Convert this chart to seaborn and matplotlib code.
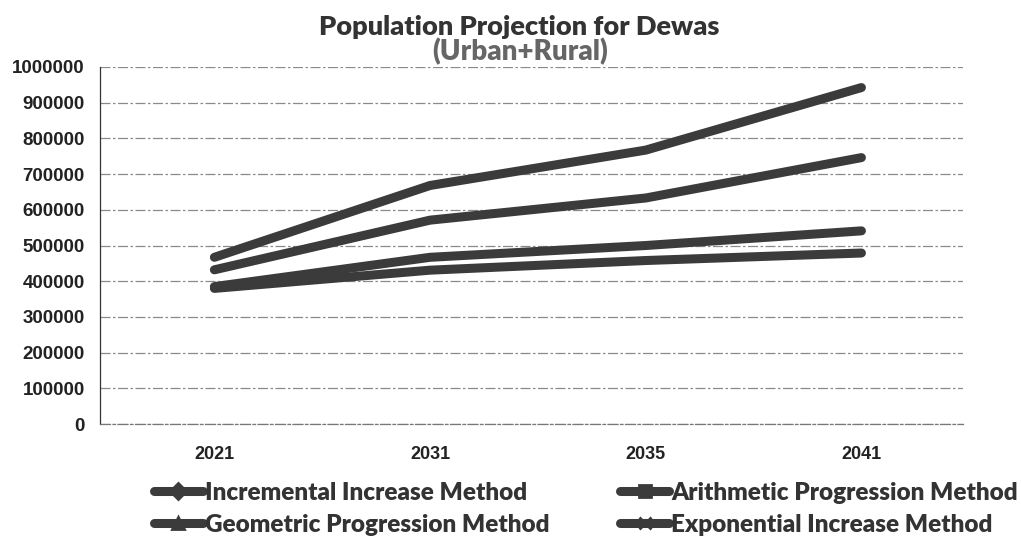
import matplotlib
matplotlib.use("Agg")
import matplotlib.pyplot as plt
from matplotlib.lines import Line2D
from matplotlib.ticker import FixedLocator, FuncFormatter
import seaborn as sns
import pandas as pd

years = ["2021", "2031", "2035", "2041"]
methods = ["Incremental Increase Method", "Arithmetic Progression Method",
           "Geometric Progression Method", "Exponential Increase Method"]
incremental = [432000, 571000, 633000, 746000]
arithmetic = [380000, 431000, 458000, 479000]
geometric = [467000, 668000, 767000, 942000]
exponential = [385000, 467000, 500000, 541000]
series = [incremental, arithmetic, geometric, exponential]
markers = ["D", "s", "^", "x"]

rows = []
for m, vals in zip(methods, series):
    for y, v in zip(years, vals):
        rows.append({"Year": y, "Population": v, "Method": m})
df = pd.DataFrame(rows)

sns.set_style("white")
plt.rcParams["font.family"] = ["Liberation Sans", "DejaVu Sans"]

line_col = "#3b3b3b"
fig = plt.figure(figsize=(10.21, 5.39), dpi=100)
ax = fig.add_axes([0.098, 0.213, 0.845, 0.663])

sns.lineplot(data=df, x="Year", y="Population", hue="Method",
             palette={m: line_col for m in methods}, linewidth=6.5,
             solid_capstyle="round", legend=False, ax=ax, sort=False)

ax.set_xlim(-0.53, 3.47)
ax.set_ylim(0, 1000000)
ax.yaxis.set_major_locator(FixedLocator(range(0, 1000001, 100000)))
ax.yaxis.set_major_formatter(FuncFormatter(lambda v, p: f"{int(v)}"))
ax.grid(axis="y", color="#8a8a8a", linewidth=0.9, linestyle=(0, (8, 2, 2, 2)))
ax.set_axisbelow(True)

ax.set_xticks(range(len(years)))
ax.set_xticklabels(years)
ax.xaxis.set_minor_locator(FixedLocator([0.5, 1.5, 2.5, 3.47]))
ax.tick_params(axis="x", which="major", length=0, pad=16, labelsize=13, labelcolor="#222222")
ax.tick_params(axis="x", which="minor", length=5, width=0.8, color="#555555", direction="out")
ax.tick_params(axis="y", length=5, width=0.8, color="#333333", direction="out", pad=6,
               labelsize=13.5, labelcolor="#222222")
for lbl in ax.get_xticklabels() + ax.get_yticklabels():
    lbl.set_fontweight("bold")

ax.set_xlabel("")
ax.set_ylabel("")
for s in ["top", "right"]:
    ax.spines[s].set_visible(False)
ax.spines["left"].set_color("#333333")
ax.spines["left"].set_linewidth(0.9)
ax.spines["bottom"].set_color("#777777")
ax.spines["bottom"].set_linewidth(0.9)
ax.spines["bottom"].set_linestyle((0, (8, 2, 2, 2)))

fig.text(0.509, 0.95, "Population Projection for Dewas", ha="center", va="center",
         fontsize=19.5, fontweight="heavy", color="#333333", family=["Lato", "DejaVu Sans"])
fig.text(0.509, 0.905, "(Urban+Rural)", ha="center", va="center",
         fontsize=20, fontweight="heavy", color="#666666", family=["Lato", "DejaVu Sans"])

handles = [Line2D([0], [0], color=line_col, linewidth=6.5, marker=mk, markersize=8,
                  markerfacecolor=line_col, markeredgecolor=line_col, markeredgewidth=2)
           for mk in markers]
# row-wise ordering for a 2-column legend
order = [0, 2, 1, 3]
leg = fig.legend([handles[i] for i in order], [methods[i] for i in order],
                 loc="upper left", bbox_to_anchor=(0.151, 0.106), ncol=2,
                 frameon=False, handlelength=2.0, handletextpad=0.1, columnspacing=2.9,
                 labelspacing=0.4, borderpad=0, borderaxespad=0,
                 prop={"family": ["Lato", "DejaVu Sans"], "weight": "heavy", "size": 17.5})
for t in leg.get_texts():
    t.set_color("#333333")

fig.savefig("out.png", dpi=100)
